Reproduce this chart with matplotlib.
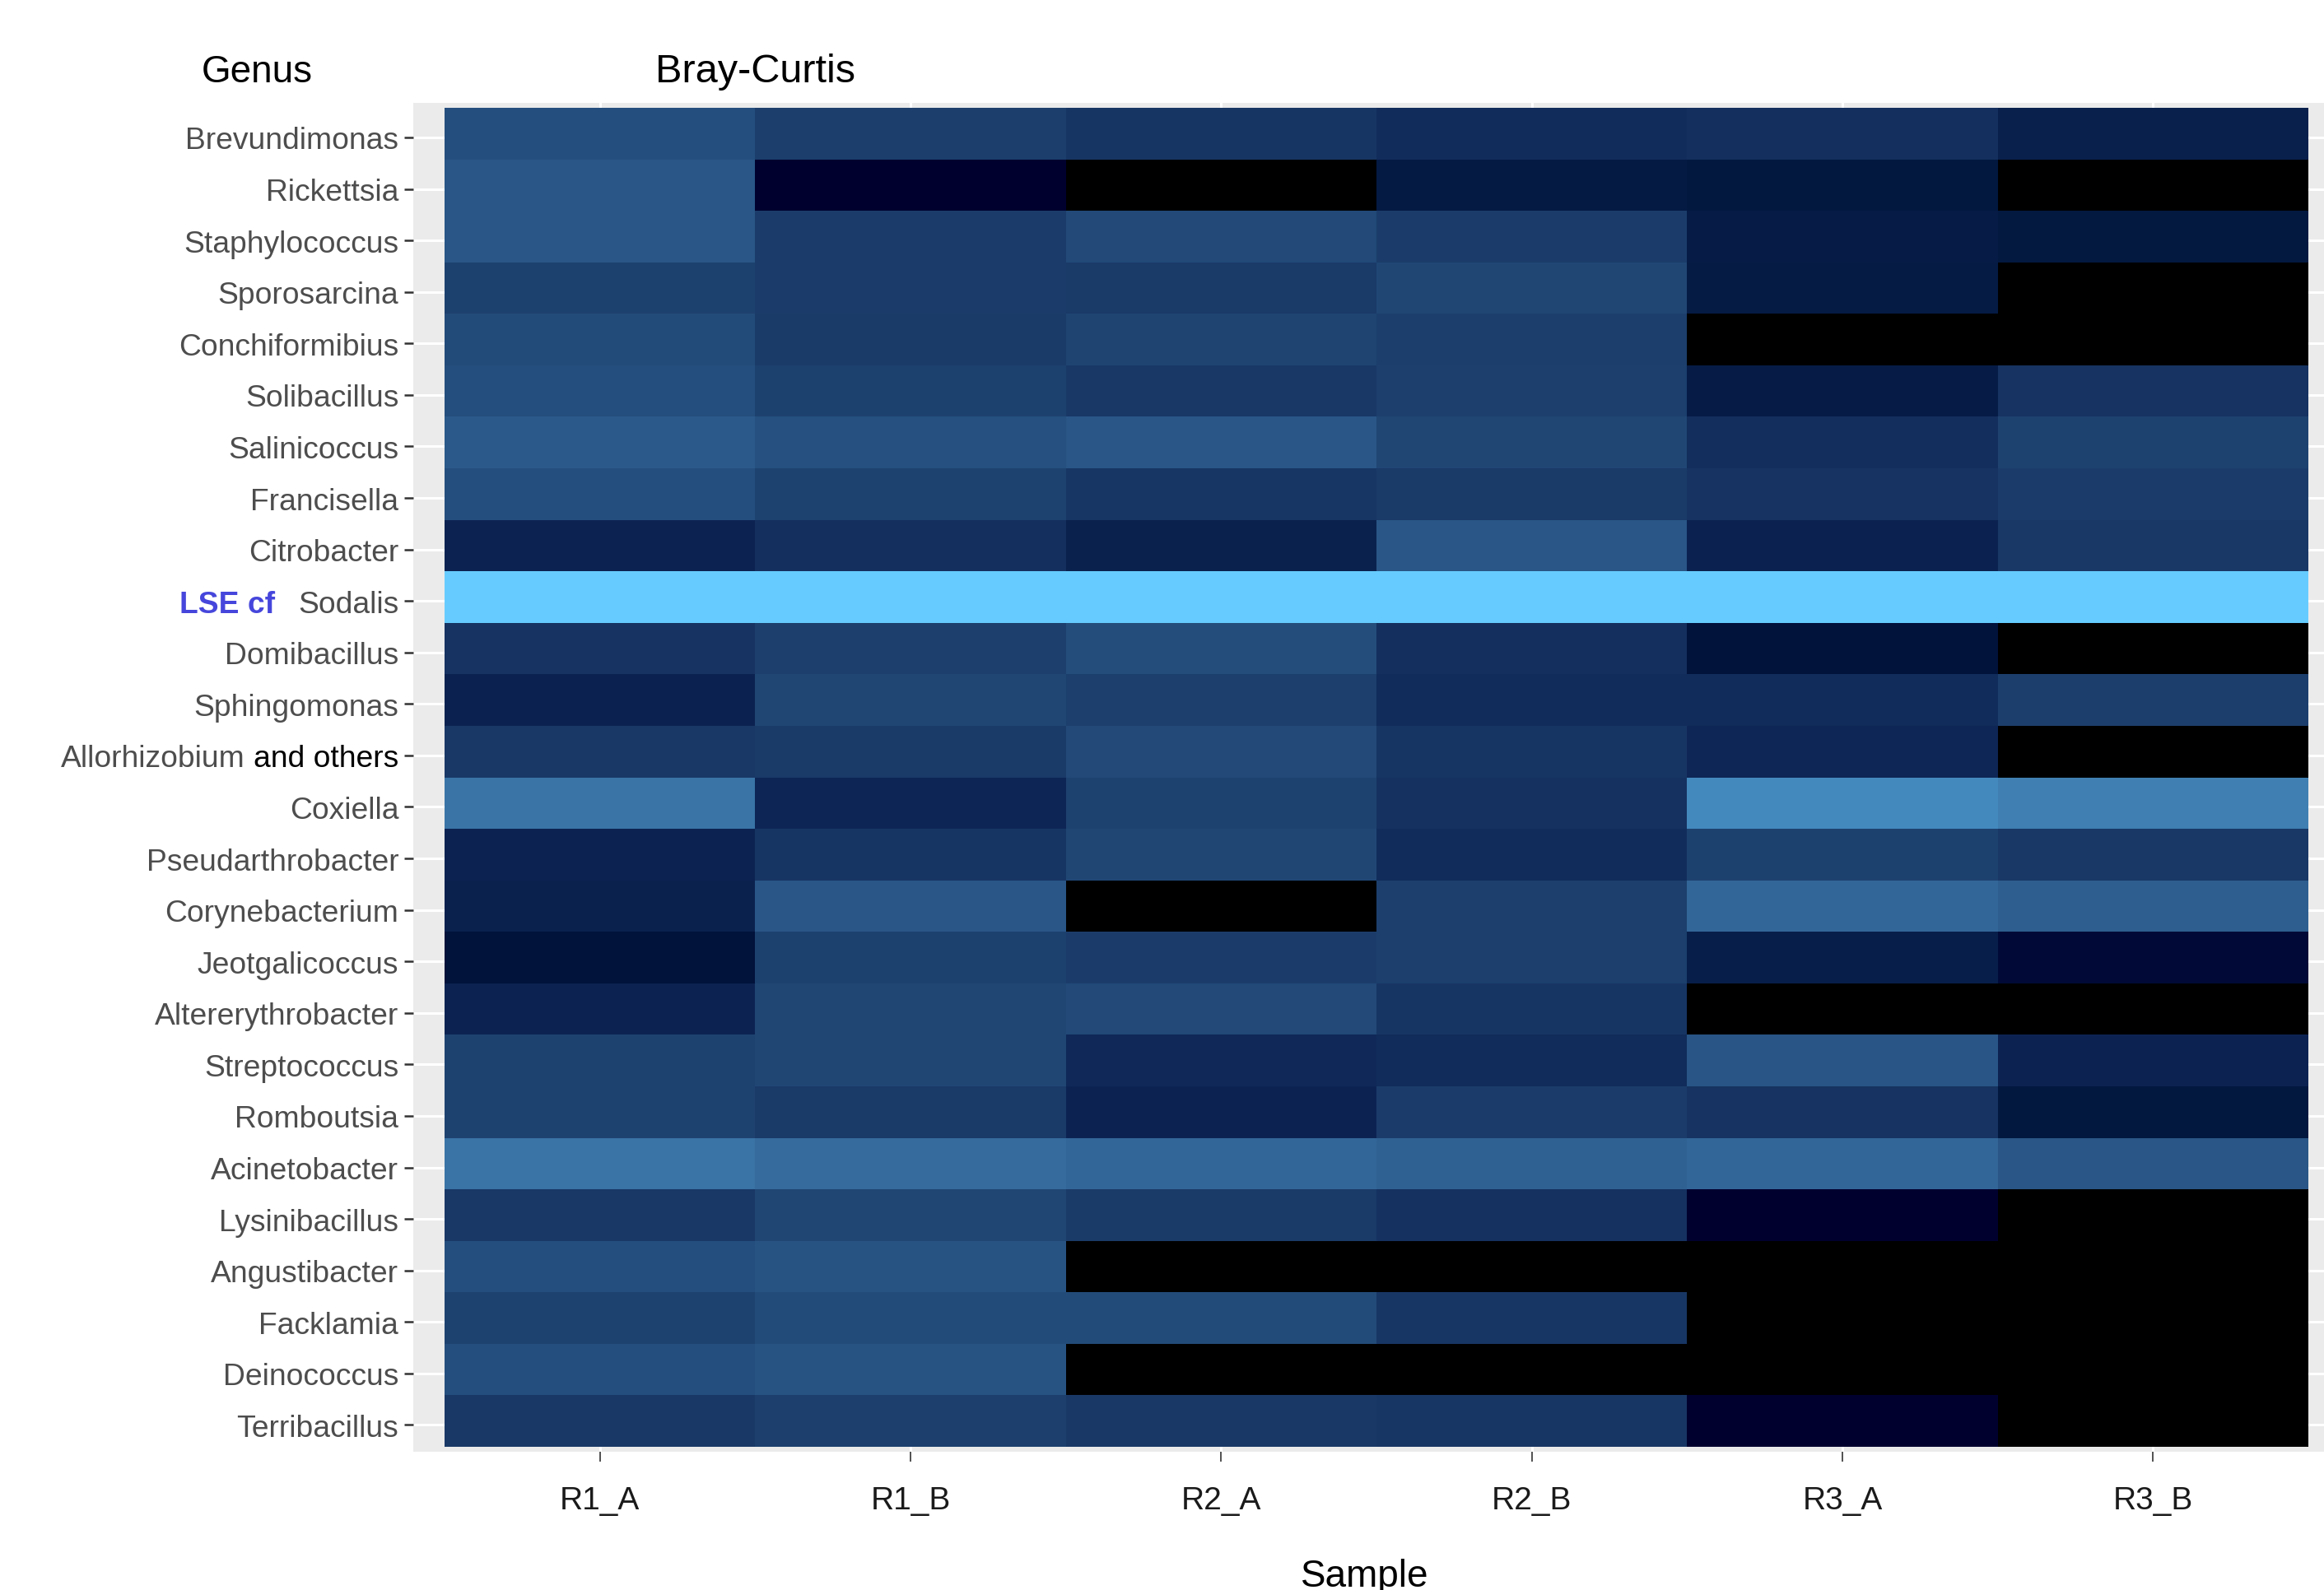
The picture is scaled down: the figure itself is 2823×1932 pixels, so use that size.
import numpy as np
import matplotlib.pyplot as plt
from matplotlib.colors import LinearSegmentedColormap

plt.rcParams['font.family'] = ['Liberation Sans', 'DejaVu Sans']

# genera, top to bottom
genera = ['Brevundimonas', 'Rickettsia', 'Staphylococcus', 'Sporosarcina',
          'Conchiformibius', 'Solibacillus', 'Salinicoccus', 'Francisella',
          'Citrobacter', 'Sodalis', 'Domibacillus', 'Sphingomonas',
          'and others', 'Coxiella', 'Pseudarthrobacter', 'Corynebacterium',
          'Jeotgalicoccus', 'Altererythrobacter', 'Streptococcus',
          'Romboutsia', 'Acinetobacter', 'Lysinibacillus', 'Angustibacter',
          'Facklamia', 'Deinococcus', 'Terribacillus']
samples = ['R1_A', 'R1_B', 'R2_A', 'R2_B', 'R3_A', 'R3_B']

# scaled abundance per sample (0 = not detected), same order as genera
r1_a = [0.55, 0.60, 0.60, 0.47, 0.53, 0.55, 0.62, 0.55, 0.30, 1.00, 0.39, 0.29, 0.42,
        0.78, 0.30, 0.28, 0.17, 0.30, 0.48, 0.48, 0.77, 0.42, 0.55, 0.48, 0.55, 0.42]
r1_b = [0.45, 0.08, 0.44, 0.44, 0.43, 0.47, 0.56, 0.48, 0.37, 1.00, 0.46, 0.50, 0.43,
        0.31, 0.40, 0.60, 0.47, 0.50, 0.50, 0.43, 0.73, 0.50, 0.58, 0.53, 0.58, 0.46]
r2_a = [0.40, 0.00, 0.52, 0.43, 0.49, 0.42, 0.60, 0.41, 0.28, 1.00, 0.54, 0.46, 0.52,
        0.48, 0.50, 0.00, 0.44, 0.52, 0.33, 0.30, 0.70, 0.43, 0.00, 0.53, 0.00, 0.42]
r2_b = [0.35, 0.22, 0.44, 0.50, 0.45, 0.46, 0.50, 0.43, 0.60, 1.00, 0.37, 0.35, 0.40,
        0.38, 0.35, 0.46, 0.46, 0.40, 0.35, 0.44, 0.67, 0.38, 0.00, 0.41, 0.00, 0.41]
r3_a = [0.37, 0.20, 0.24, 0.23, 0.00, 0.24, 0.36, 0.39, 0.29, 1.00, 0.17, 0.35, 0.32,
        0.85, 0.47, 0.70, 0.26, 0.00, 0.59, 0.39, 0.70, 0.08, 0.00, 0.00, 0.00, 0.08]
r3_b = [0.27, 0.00, 0.21, 0.00, 0.00, 0.39, 0.48, 0.44, 0.42, 1.00, 0.00, 0.45, 0.00,
        0.82, 0.42, 0.65, 0.13, 0.00, 0.30, 0.20, 0.60, 0.00, 0.00, 0.00, 0.00, 0.00]

scores = np.column_stack([r1_a, r1_b, r2_a, r2_b, r3_a, r3_b])

cmap = LinearSegmentedColormap.from_list('bc', [
    (0.00, '#000000'), (0.08, '#000030'), (0.20, '#02183F'), (0.30, '#0C2352'),
    (0.40, '#173563'), (0.50, '#204674'), (0.60, '#295686'), (0.70, '#336698'),
    (0.80, '#3C78AA'), (0.85, '#4389BE'), (1.00, '#66CCFF')])

W, H, DPI = 2823, 1933, 100
fig = plt.figure(figsize=(W / DPI, H / DPI), dpi=DPI, facecolor='white')

# panel in pixels: heatmap spans x 540-2804, y 132-1759
cell_w = (2804 - 540) / 6
cell_h = (1759 - 132) / 26
x0 = 540 - 0.1 * cell_w
x1 = 540 + 6.1 * cell_w
y_top = 132 - 0.1 * cell_h
y_bot = 1759 + 0.1 * cell_h
ax = fig.add_axes([x0 / W, 1 - y_bot / H, (x1 - x0) / W, (y_bot - y_top) / H])
ax.set_facecolor('#EBEBEB')

ax.pcolormesh(np.arange(7), np.arange(27), scores, cmap=cmap, vmin=0, vmax=1,
              shading='flat', antialiased=False, zorder=1)
ax.set_xlim(-0.1, 6.1)
ax.set_ylim(26.1, -0.1)

ax.set_xticks(np.arange(6) + 0.5)
ax.set_xticklabels(samples, fontsize=28, color='#1A1A1A')
# the row ticks sit a little below the tile centres
ax.set_yticks(np.arange(26) + 0.575)
ax.set_yticklabels(genera, fontsize=26.8, color='#4D4D4D')
ax.tick_params(axis='x', length=8.5, width=1.2, color='#333333', pad=21)
ax.tick_params(axis='y', length=8, width=1.8, color='#333333', pad=5)
ax.set_axisbelow(True)
ax.grid(True, color='white', linewidth=2.2)
for s in ax.spines.values():
    s.set_visible(False)

ylabels = ax.get_yticklabels()
ylabels[12].set_color('black')
ax.annotate('LSE cf', xy=(0, 0), xycoords=ylabels[9], xytext=(-20, 0),
            textcoords='offset points', ha='right', va='bottom',
            fontsize=26.8, fontweight='bold', color='#4646DC')
ax.annotate('Allorhizobium', xy=(0, 0), xycoords=ylabels[12], xytext=(-7.5, 0),
            textcoords='offset points', ha='right', va='bottom',
            fontsize=26.8, color='#4D4D4D')

fig.text(312 / W, 1 - 100 / H, 'Genus', ha='center', va='baseline', fontsize=33)
fig.text(917 / W, 1 - 100 / H, 'Bray-Curtis', ha='center', va='baseline', fontsize=35)
fig.text(1658 / W, 1 - 1928 / H, 'Sample', ha='center', va='baseline', fontsize=33)

fig.savefig('out.png', dpi=DPI, facecolor='white')
